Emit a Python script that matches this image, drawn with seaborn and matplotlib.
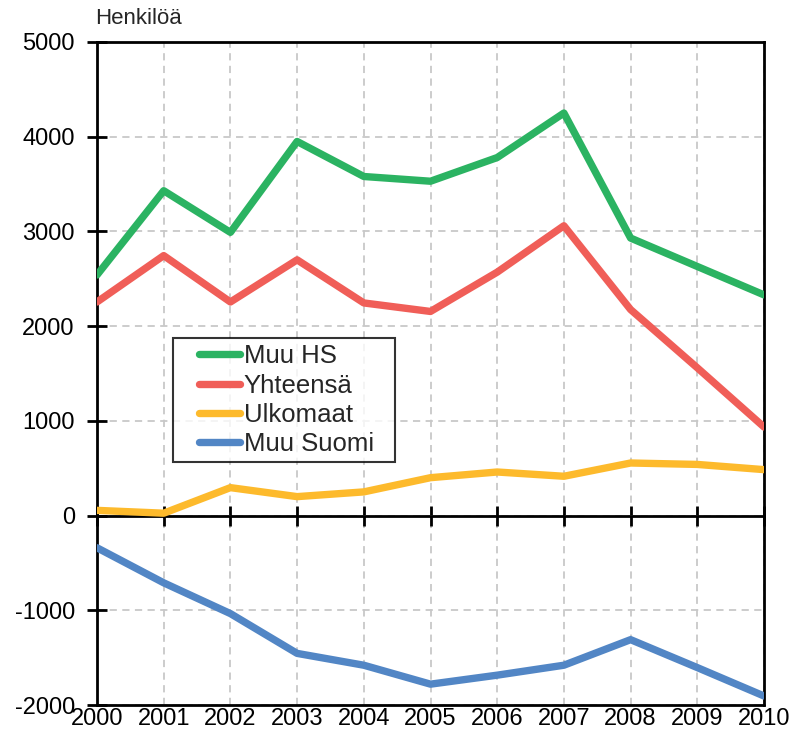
import matplotlib
matplotlib.use("Agg")
import matplotlib.pyplot as plt
from matplotlib.legend_handler import HandlerLine2D
import numpy as np
import seaborn as sns
import pandas as pd

years = list(range(2000, 2011))
muu_hs = [2540, 3430, 2990, 3950, 3580, 3530, 3780, 4250, 2930, 2630, 2330]
yhteensa = [2255, 2745, 2255, 2700, 2245, 2155, 2570, 3060, 2175, 1560, 935]
ulkomaat = [55, 25, 295, 200, 250, 400, 460, 415, 555, 540, 485]
muu_suomi = [-340, -710, -1035, -1455, -1580, -1780, -1685, -1580, -1310, -1605, -1905]

series_names = ["Muu HS", "Yhteensä", "Ulkomaat", "Muu Suomi"]
series_values = [muu_hs, yhteensa, ulkomaat, muu_suomi]
colors = ["#2BB362", "#F05E58", "#FDBA2C", "#5286C5"]

rows = []
for name, vals in zip(series_names, series_values):
    for y, v in zip(years, vals):
        rows.append({"Vuosi": y, "Arvo": v, "Sarja": name})
df = pd.DataFrame(rows)

sns.set_theme(style="white")
plt.rcParams["font.family"] = ["Liberation Sans", "DejaVu Sans"]
plt.rcParams["axes.unicode_minus"] = False


class IndentedLine(HandlerLine2D):
    """Legend line drawn in the right part of the handle box."""
    def create_artists(self, legend, orig_handle, xdescent, ydescent, width, height, fontsize, trans):
        artists = super().create_artists(legend, orig_handle, xdescent, ydescent, width, height, fontsize, trans)
        for a in artists:
            xd = np.asarray(a.get_xdata(), dtype=float)
            if len(xd) >= 2:
                a.set_xdata(np.linspace(xd[0] + 0.31 * width, xd[-1] - 0.05 * width, len(xd)))
        return artists


fig = plt.figure(figsize=(7.96, 7.48), dpi=100)
ax = fig.add_axes([97 / 796, 1 - 705 / 748, (764 - 97) / 796, (705 - 42) / 748])

sns.lineplot(data=df, x="Vuosi", y="Arvo", hue="Sarja", hue_order=series_names,
             palette=colors, linewidth=5.3, ax=ax, legend=True, zorder=4)

ax.set_xlim(2000, 2010)
ax.set_ylim(-2000, 5000)
ax.set_yticks(range(-2000, 5001, 1000))
ax.set_xticks(years)
ax.set_xlabel("")
ax.set_ylabel("")

ax.grid(True, color="#c8c8c8", linestyle=(0, (4, 3)), linewidth=1.3, zorder=0)
ax.set_axisbelow(True)
for s in ax.spines.values():
    s.set_visible(True)
    s.set_color("black")
    s.set_linewidth(2)

# x axis line sits at zero, with ticks crossing it
ax.spines["bottom"].set_position(("data", 0))
ax.spines["bottom"].set_zorder(3)
ax.tick_params(axis="x", direction="inout", length=14, width=2, color="black",
               labelbottom=False, bottom=True)
# frame bottom edge
ax.axhline(-2000, color="black", linewidth=2, clip_on=False, zorder=3)

ax.tick_params(axis="y", direction="inout", length=14, width=2, labelsize=17,
               color="black", labelcolor="black", left=True, pad=9)

lab = ax.secondary_xaxis("bottom")
lab.set_xticks(years)
lab.set_xticklabels([str(y) for y in years])
lab.tick_params(axis="x", length=0, labelsize=17, pad=2, labelcolor="black")
lab.spines["bottom"].set_visible(False)

fig.text(95 / 796, 1 - 18 / 748, "Henkilöä", fontsize=16, ha="left", va="center")

handles, labels = ax.get_legend_handles_labels()
leg = ax.legend(handles, labels, loc="upper left",
                bbox_to_anchor=((173 - 97) / 667, (705 - 462) / 663, (395 - 173) / 667, (462 - 338) / 663),
                mode="expand", frameon=True, fontsize=18.5, handlelength=2.5, handletextpad=0.0,
                labelspacing=0.2, borderpad=0.25, fancybox=False, borderaxespad=0,
                handler_map={h: IndentedLine() for h in handles})
leg.get_frame().set_edgecolor("black")
leg.get_frame().set_linewidth(1.5)
for line in leg.get_lines():
    line.set_linewidth(5.3)
    line.set_solid_capstyle("round")

fig.savefig("out.png", dpi=100)
